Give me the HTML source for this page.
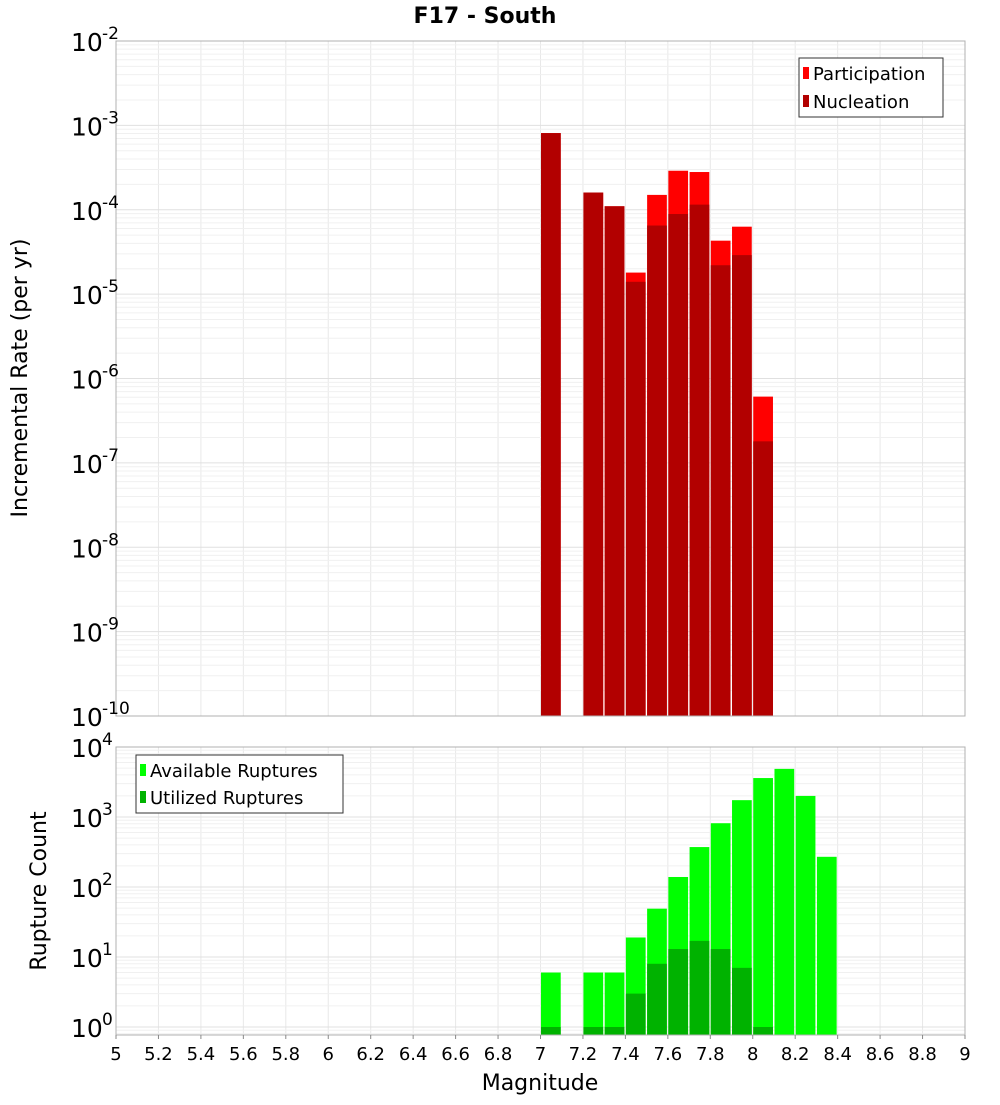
<!DOCTYPE html>
<html><head><meta charset="utf-8"><style>
body{margin:0;background:#fff;width:1000px;height:1100px;overflow:hidden}
svg text{font-family:"DejaVu Sans","Liberation Sans",sans-serif}
</style></head><body>
<svg id="c" width="1000" height="1100"></svg>
<script>
const mags=[7.0,7.1,7.2,7.3,7.4,7.5,7.6,7.7,7.8,7.9,8.0,8.1,8.2,8.3];
const participation=[8.1e-4,0,1.6e-4,1.1e-4,1.8e-5,1.5e-4,2.9e-4,2.8e-4,4.3e-5,6.3e-5,6.1e-7,0,0,0];
const nucleation=[8.1e-4,0,1.6e-4,1.1e-4,1.4e-5,6.5e-5,8.9e-5,1.15e-4,2.2e-5,2.9e-5,1.8e-7,0,0,0];
const available=[6,0,6,6,19,49,139,372,815,1740,3600,4870,2000,270];
const utilized=[1,0,1,1,3,8,13,17,13,7,1,0,0,0];
const xTicks=[5,5.2,5.4,5.6,5.8,6,6.2,6.4,6.6,6.8,7,7.2,7.4,7.6,7.8,8,8.2,8.4,8.6,8.8,9];
const topExps=[-2,-3,-4,-5,-6,-7,-8,-9,-10];
const botExps=[4,3,2,1,0];
const NS="http://www.w3.org/2000/svg";
const svg=document.getElementById('c');
function el(t,a,p){const e=document.createElementNS(NS,t);for(const k in a)e.setAttribute(k,a[k]);(p||svg).appendChild(e);return e;}
const X0=116,X1=965;
const x=m=>X0+(m-5)/4*(X1-X0);
const T0=41,T1=716,yT=v=>T0+(-2-Math.log10(v))/8*(T1-T0);
const B0=747,B1=1035,yB=v=>1027-Math.log10(v)*70;
function grid(top,bot,ylog,emin,emax){
  for(let m=5;m<=9.001;m+=0.2){el('line',{x1:x(m),x2:x(m),y1:top,y2:bot,stroke:'#e8e8e8'});}
  for(let e=emin;e<=emax;e++)for(let k=1;k<10;k++){const y=ylog(k*Math.pow(10,e));if(y>=top-0.5&&y<=bot+0.5)el('line',{x1:X0,x2:X1,y1:y,y2:y,stroke:k==1?'#e0e0e0':'#f0f0f0'});}
}
grid(T0,T1,yT,-10,-3);
mags.forEach((m,i)=>{
  if(participation[i]>0){const r=el('rect',{x:x(m)+0.5,y:yT(participation[i]),width:x(m+0.1)-x(m)-1.5,height:T1-yT(participation[i]),fill:'#ff0000'});
  }
  if(nucleation[i]>0){const r=el('rect',{x:x(m)+0.5,y:yT(nucleation[i]),width:x(m+0.1)-x(m)-1.5,height:T1-yT(nucleation[i]),fill:'#b20000'});
  }
});
el('rect',{x:X0,y:T0,width:X1-X0,height:T1-T0,fill:'none',stroke:'#b0b0b0'});
topExps.forEach(e=>{const t=el('text',{x:71,y:yT(Math.pow(10,e))+10,'font-size':25});t.textContent='10';
 const s=el('text',{x:102,y:yT(Math.pow(10,e))-2,'font-size':17});s.textContent=String(e);
 });
grid(B0,B1,yB,-1,3);
mags.forEach((m,i)=>{
  if(available[i]>0){const r=el('rect',{x:x(m)+0.5,y:yB(available[i]),width:x(m+0.1)-x(m)-1.5,height:B1-yB(available[i]),fill:'#00ff00'});
  }
  if(utilized[i]>0){const r=el('rect',{x:x(m)+0.5,y:yB(utilized[i]),width:x(m+0.1)-x(m)-1.5,height:B1-yB(utilized[i]),fill:'#00b200'});
  }
});
el('rect',{x:X0,y:B0,width:X1-X0,height:B1-B0,fill:'none',stroke:'#b0b0b0'});
botExps.forEach(e=>{const y=yB(Math.pow(10,e));const t=el('text',{x:71,y:y+10,'font-size':25});t.textContent='10';
 const s=el('text',{x:102,y:y-2,'font-size':17});s.textContent=String(e);
 });
xTicks.forEach(m=>{el('line',{x1:x(m),x2:x(m),y1:B1,y2:B1+4,stroke:'#888'});
 const t=el('text',{x:x(m),y:1060,'font-size':18,'text-anchor':'middle'});t.textContent=String(m);
 });
</script>
<svg width="1000" height="1100" style="position:absolute;left:0;top:0">
<text x="485" y="23" font-size="22" font-weight="bold" text-anchor="middle">F17 - South</text>
<text x="540" y="1090" font-size="22" text-anchor="middle">Magnitude</text>
<text transform="translate(27,378) rotate(-90)" font-size="22" text-anchor="middle">Incremental Rate (per yr)</text>
<text transform="translate(46,891) rotate(-90)" font-size="22" text-anchor="middle">Rupture Count</text>
<g>
<rect x="799" y="58" width="144" height="59" fill="#fff" stroke="#333"/>
<rect x="803" y="67" width="6" height="12" fill="#ff0000"/>
<text x="813" y="80" font-size="18">Participation</text>
<rect x="803" y="95" width="6" height="12" fill="#b20000"/>
<text x="813" y="108" font-size="18">Nucleation</text>
</g>
<g>
<rect x="136" y="755" width="207" height="58" fill="#fff" stroke="#333"/>
<rect x="140" y="764" width="6" height="12" fill="#00ff00"/>
<text x="150" y="777" font-size="18">Available Ruptures</text>
<rect x="140" y="791" width="6" height="12" fill="#00b200"/>
<text x="150" y="804" font-size="18">Utilized Ruptures</text>
</g>
</svg>
</body></html>
